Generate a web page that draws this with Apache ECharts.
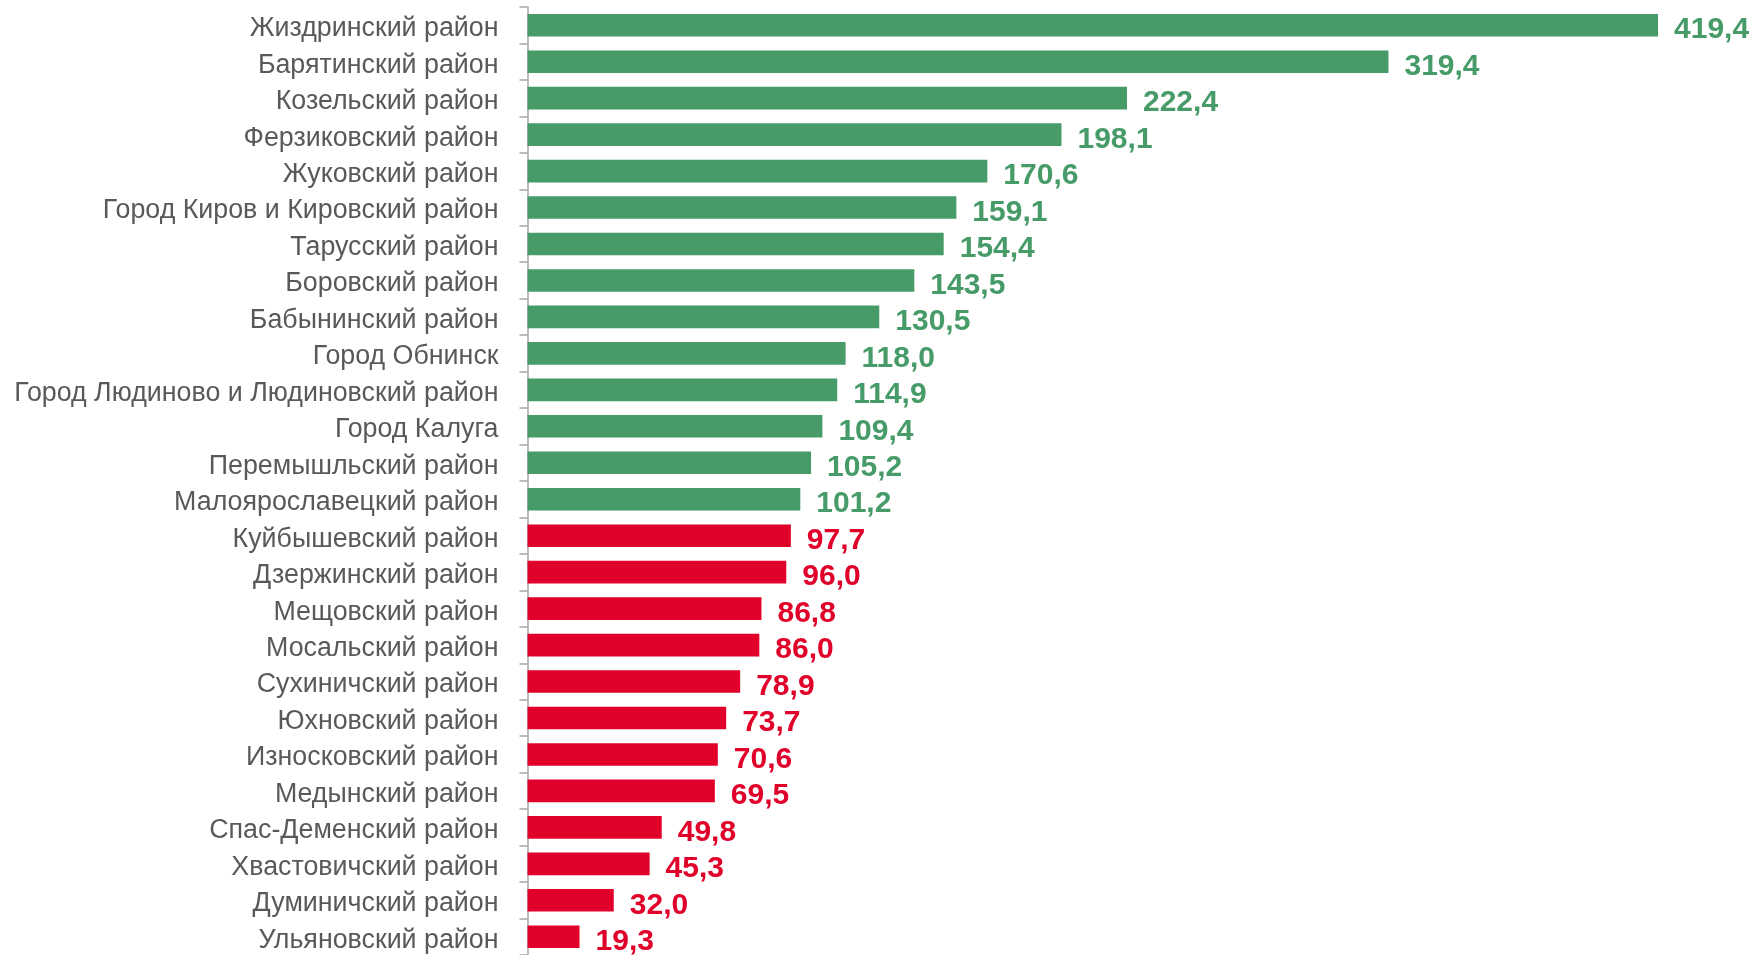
<!DOCTYPE html>
<html>
<head>
<meta charset="utf-8">
<script src="https://cdn.jsdelivr.net/npm/echarts@6/dist/echarts.min.js"></script>
<style>
html,body{margin:0;padding:0;background:#fff;}
#chart{width:1754px;height:955px;}
</style>
</head>
<body>
<div id="chart"></div>
<script>
const categories = [
  "Жиздринский район",
  "Барятинский район",
  "Козельский район",
  "Ферзиковский район",
  "Жуковский район",
  "Город Киров и Кировский район",
  "Тарусский район",
  "Боровский район",
  "Бабынинский район",
  "Город Обнинск",
  "Город Людиново и Людиновский район",
  "Город Калуга",
  "Перемышльский район",
  "Малоярославецкий район",
  "Куйбышевский район",
  "Дзержинский район",
  "Мещовский район",
  "Мосальский район",
  "Сухиничский район",
  "Юхновский район",
  "Износковский район",
  "Медынский район",
  "Спас-Деменский район",
  "Хвастовичский район",
  "Думиничский район",
  "Ульяновский район"
];
const values = [419.4, 319.4, 222.4, 198.1, 170.6, 159.1, 154.4, 143.5, 130.5, 118.0, 114.9, 109.4, 105.2, 101.2, 97.7, 96.0, 86.8, 86.0, 78.9, 73.7, 70.6, 69.5, 49.8, 45.3, 32.0, 19.3];
const threshold = 100;

const GREEN = '#469B69';
const RED = '#E0002A';

const seriesData = values.map(v => {
  const c = v >= threshold ? GREEN : RED;
  return {value: v, itemStyle: {color: c}, label: {color: c}};
});

const chart = echarts.init(document.getElementById('chart'), null, {renderer: 'canvas'});
chart.setOption({
  animation: false,
  backgroundColor: '#fff',
  grid: {left: 527.5, top: 7, width: 1213, height: 951.6, containLabel: false},
  xAxis: {
    type: 'value', min: 0, max: 450, show: false
  },
  yAxis: {
    type: 'category',
    data: categories,
    inverse: true,
    axisLine: {show: true, lineStyle: {color: '#A6A6A6', width: 1.5}},
    axisTick: {show: true, length: 8, lineStyle: {color: '#A6A6A6', width: 1.5}},
    axisLabel: {
      margin: 29,
      formatter: v => '{c|' + v + '}',
      rich: {
        c: {
          color: '#595959', fontSize: 26.8, fontFamily: 'Liberation Sans, Arial, sans-serif',
          padding: [7, 0, 0, 0]
        }
      }
    },
    splitLine: {show: false}
  },
  series: [{
    type: 'bar',
    data: seriesData,
    barCategoryGap: '38%',
    label: {
      show: true,
      position: 'right',
      distance: 16,
      offset: [0, 5],
      fontFamily: 'Liberation Sans, Arial, sans-serif',
      fontSize: 30,
      fontWeight: 'bold',
      formatter: p => p.value.toFixed(1).replace('.', ',')
    }
  }]
});
</script>
</body>
</html>
